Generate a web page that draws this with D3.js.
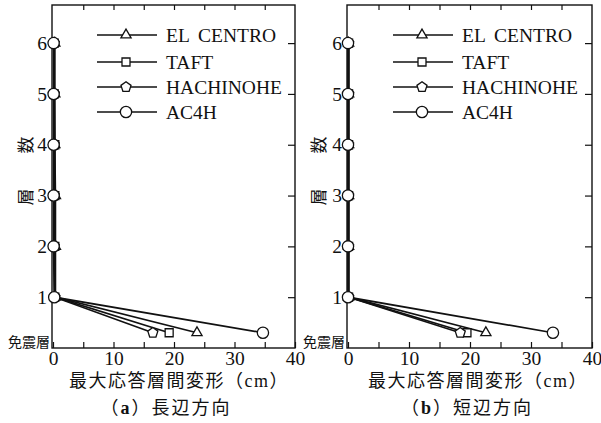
<!DOCTYPE html>
<html>
<head>
<meta charset="utf-8">
<script src="https://cdn.jsdelivr.net/npm/d3@7"></script>
<style>
  html, body { margin: 0; padding: 0; background: #fff; }
  svg { display: block; }
</style>
</head>
<body>
<svg id="chart" width="601" height="423"></svg>
<script>
// Story positions: base-isolation layer, then floors 1..6
const levelPos = [0.3, 1, 2, 3, 4, 5, 6];
const floorTicks = [1, 2, 3, 4, 5, 6];
const xTicks = [0, 5, 10, 15, 20, 25, 30, 35, 40];
const seriesNames = ["EL CENTRO", "TAFT", "HACHINOHE", "AC4H"];
const seriesSymbols = ["triangle", "square", "pentagon", "circle"];

// Maximum inter-story drift (cm), long-side direction
const elCentroLong  = [23.8, 0.4, 0.4, 0.4, 0.3, 0.3, 0.3];
const taftLong      = [19.2, 0.3, 0.3, 0.3, 0.3, 0.2, 0.2];
const hachinoheLong = [16.5, 0.3, 0.2, 0.2, 0.2, 0.2, 0.2];
const ac4hLong      = [34.7, 0.2, 0.1, 0.1, 0.1, 0.1, 0.1];

// Maximum inter-story drift (cm), short-side direction
const elCentroShort  = [22.6, 0.1, 0.1, 0.1, 0.1, 0.1, 0.1];
const taftShort      = [19.5, 0.1, 0.1, 0.1, 0.1, 0.1, 0.1];
const hachinoheShort = [18.4, 0.1, 0.1, 0.1, 0.1, 0.1, 0.1];
const ac4hShort      = [33.6, 0.0, 0.0, 0.0, 0.0, 0.0, 0.0];

const panels = [
  { left: 53, right: 295, caption: ["（", "a", "）長辺方向"],
    series: [elCentroLong, taftLong, hachinoheLong, ac4hLong],
    legendX: 97, captionX: 166, xLabelX: 179, yLabelX: 26 },
  { left: 348, right: 592, caption: ["（", "b", "）短辺方向"],
    series: [elCentroShort, taftShort, hachinoheShort, ac4hShort],
    legendX: 393, captionX: 467, xLabelX: 478, yLabelX: 319 }
];

const plotTop = 5, plotBottom = 348;
const serif = "'Liberation Serif', 'DejaVu Serif', serif";
const cjk = "'Liberation Serif', 'Noto Sans CJK JP', sans-serif";
const ink = "#111";

const svg = d3.select("#chart");

function symbolPath(kind) {
  if (kind === "pentagon") {
    const r = 5.3;
    const pts = d3.range(5).map(i => {
      const a = -Math.PI / 2 + i * 2 * Math.PI / 5;
      return [r * Math.cos(a), r * Math.sin(a)];
    });
    return "M" + pts.map(p => p.join(",")).join("L") + "Z";
  }
  const shapes = {
    triangle: [d3.symbolTriangle, 45],
    square: [d3.symbolSquare, 64],
    circle: [d3.symbolCircle, 100]
  };
  return d3.symbol(shapes[kind][0], shapes[kind][1])();
}

panels.forEach(p => {
  const x = d3.scaleLinear().domain([0, 40]).range([p.left, p.right]);
  const y = d3.scaleLinear().domain([0, 6.75]).range([plotBottom, plotTop]);
  const g = svg.append("g");

  // bottom axis: inward ticks every 5, labels every 10
  const fmt = d => (d % 10 === 0 ? d3.format("d")(d) : "");
  const bx = g.append("g").attr("transform", `translate(0,${plotBottom})`)
    .call(d3.axisBottom(x).tickValues(xTicks).tickSize(-6).tickPadding(3).tickFormat(fmt));
  bx.selectAll("text").style("font-family", serif).style("font-size", "19.5px").attr("fill", ink);

  // top axis: inward ticks only
  g.append("g").attr("transform", `translate(0,${plotTop})`)
    .call(d3.axisTop(x).tickValues(xTicks.slice(1, -1)).tickSize(-5).tickFormat(""));

  // right axis: inward ticks at each floor
  g.append("g").attr("transform", `translate(${p.right},0)`)
    .call(d3.axisRight(y).tickValues(floorTicks).tickSize(-7).tickFormat(""));

  // left axis labels
  const ly = g.append("g").attr("transform", `translate(${p.left - 1},0)`)
    .call(d3.axisLeft(y).tickValues(floorTicks).tickSize(0).tickPadding(5).tickFormat(d3.format("d")));
  ly.selectAll("text").style("font-family", serif).style("font-size", "19.5px").attr("fill", ink);

  g.selectAll(".domain").remove();
  g.selectAll(".tick line").attr("stroke", ink).attr("stroke-width", 1.2);

  // frame
  g.append("rect")
    .attr("x", x(0) - 1).attr("y", plotTop)
    .attr("width", x(40) - x(0) + 1).attr("height", plotBottom - plotTop)
    .attr("fill", "none").attr("stroke", ink).attr("stroke-width", 1.4);

  // base-isolation layer label
  g.append("text")
    .attr("x", x(0) - 3).attr("y", plotBottom - 1)
    .attr("text-anchor", "end")
    .style("font-family", cjk).style("font-size", "14px").attr("fill", ink)
    .text("免震層");

  // series lines and markers
  const line = d3.line().x(d => x(d[0])).y(d => y(d[1]));
  p.series.forEach(vals => {
    const pts = vals.map((v, i) => [v, levelPos[i]]);
    g.append("path").attr("d", line(pts))
      .attr("fill", "none").attr("stroke", ink).attr("stroke-width", 1.7);
  });
  p.series.forEach((vals, si) => {
    g.selectAll(null).data(vals.map((v, i) => [v, levelPos[i]])).enter()
      .append("path")
      .attr("transform", d => `translate(${x(d[0])},${y(d[1])})`)
      .attr("d", symbolPath(seriesSymbols[si]))
      .attr("fill", "#fff").attr("stroke", ink).attr("stroke-width", 1.3);
  });

  // legend
  seriesNames.forEach((name, i) => {
    const cy = [35, 62, 87, 112][i];
    const lg = g.append("g");
    lg.append("line")
      .attr("x1", p.legendX).attr("x2", p.legendX + 60)
      .attr("y1", cy).attr("y2", cy)
      .attr("stroke", ink).attr("stroke-width", 1.6);
    lg.append("path")
      .attr("transform", `translate(${p.legendX + 29},${cy})`)
      .attr("d", symbolPath(seriesSymbols[i]))
      .attr("fill", "#fff").attr("stroke", ink).attr("stroke-width", 1.3);
    lg.append("text")
      .attr("x", p.legendX + 69).attr("y", cy).attr("dy", "0.36em")
      .style("font-family", serif).style("font-size", "19.5px").attr("fill", ink)
      .attr("word-spacing", 4)
      .text(name);
  });

  // y-axis title (rotated)
  const yt = g.append("text")
    .attr("transform", `translate(${p.yLabelX},171) rotate(-90)`)
    .attr("text-anchor", "middle").attr("dy", "0.35em")
    .style("font-family", cjk).style("font-size", "17px").attr("fill", ink);
  yt.append("tspan").text("層");
  yt.append("tspan").attr("dx", 35).text("数");

  // x-axis title
  g.append("text")
    .attr("x", p.xLabelX).attr("y", 381).attr("dy", "0.35em")
    .attr("text-anchor", "middle")
    .style("font-family", cjk).style("font-size", "18px").style("letter-spacing", "1.5px")
    .attr("fill", ink)
    .text("最大応答層間変形（cm）");

  // panel caption
  const cap = g.append("text")
    .attr("x", p.captionX).attr("y", 408).attr("dy", "0.35em")
    .attr("text-anchor", "middle")
    .style("font-family", cjk).style("font-size", "18px").style("letter-spacing", "2px")
    .attr("fill", ink);
  cap.append("tspan").text(p.caption[0]);
  cap.append("tspan").attr("font-weight", "bold").style("font-family", serif).text(p.caption[1]);
  cap.append("tspan").text(p.caption[2]);
});
</script>
</body>
</html>
